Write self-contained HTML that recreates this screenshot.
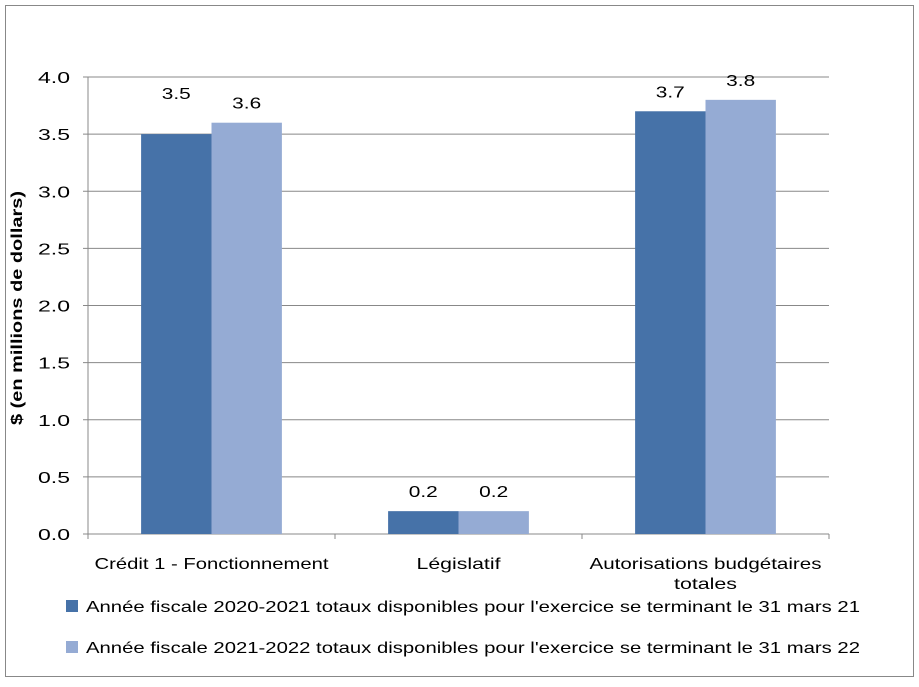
<!DOCTYPE html>
<html><head><meta charset="utf-8"><style>
body{margin:0;background:#fff;font-family:"Liberation Sans",sans-serif;}
svg text{font-family:"Liberation Sans",sans-serif;}
</style></head><body>
<svg id="chart" width="919" height="682" viewBox="0 0 919 682">
<rect x="5.5" y="5.5" width="908" height="671" fill="#fff" stroke="#888"/>
<g id="grid"></g><g id="bars"></g><g id="labels"></g>
<text transform="translate(22,308) rotate(-90)" text-anchor="middle" font-size="16" font-weight="bold" fill="#000" textLength="234" lengthAdjust="spacingAndGlyphs">$ (en millions de dollars)</text>
<g>
<rect x="66" y="600" width="12" height="12" fill="#4672A8"/>
<text x="86" y="612" font-size="16" fill="#000" textLength="774" lengthAdjust="spacingAndGlyphs">Année fiscale 2020-2021 totaux disponibles pour l'exercice se terminant le 31 mars 21</text>
<rect x="66" y="641" width="12" height="12" fill="#95ABD4"/>
<text x="86" y="653" font-size="16" fill="#000" textLength="774" lengthAdjust="spacingAndGlyphs">Année fiscale 2021-2022 totaux disponibles pour l'exercice se terminant le 31 mars 22</text>
</g>
</svg>
<script>
const categories=["Crédit 1 - Fonctionnement","Législatif","Autorisations budgétaires|totales"];
const series2020=[3.5,0.2,3.7];
const series2021=[3.6,0.2,3.8];
const yTicks=[0,0.5,1,1.5,2,2.5,3,3.5,4];
const NS="http://www.w3.org/2000/svg";
const x0=88,x1=829,y0=534,yTop=77,yMax=4;
function yScale(v){return y0-(v/yMax)*(y0-yTop);}
const gw=(x1-x0)/categories.length;
function xCenter(i){return x0+gw*(i+0.5);}
function mk(t,a,p){const e=document.createElementNS(NS,t);for(const k in a)e.setAttribute(k,a[k]);p.appendChild(e);return e;}
const grid=document.getElementById('grid'),bars=document.getElementById('bars'),labels=document.getElementById('labels');
function fit(t,w){t.setAttribute('textLength',w);t.setAttribute('lengthAdjust','spacingAndGlyphs');}
yTicks.forEach(v=>{
 const y=yScale(v);
 const l=mk('line',{x1:x0,x2:x1,y1:y,y2:y,stroke:'#888','stroke-width':1},grid);
 
 
 mk('line',{x1:x0-5,x2:x0,y1:y,y2:y,stroke:'#888'},grid);
 const t=mk('text',{x:x0-18,y:y+6,'text-anchor':'end','font-size':16},grid);
 t.textContent=v.toFixed(1);
 fit(t,32);
 
 
});
mk('line',{x1:x0,x2:x0,y1:yTop,y2:y0+5,stroke:'#888'},grid);
for(let i=0;i<=categories.length;i++)mk('line',{x1:x0+gw*i,x2:x0+gw*i,y1:y0,y2:y0+5,stroke:'#888'},grid);
const bw=gw*0.285;
const catWidths=[[234],[84],[232,63]];
categories.forEach((c,i)=>{
 const cx=xCenter(i);
 [[series2020,'#4672A8',-1],[series2021,'#95ABD4',0]].forEach(([s,col,off],j)=>{
  const v=s[i],x=cx+off*bw,y=yScale(v);
  const r=mk('rect',{x:x,y:y,width:bw,height:y0-y,fill:col},bars);
  
  
  const t=mk('text',{x:x+bw/2,y:y-(i===0&&j===0?35:14),'text-anchor':'middle','font-size':16},labels);
  t.textContent=v.toFixed(1);
  fit(t,29);
  
  
 });
 const lines=c.split('|');
 lines.forEach((ln,k)=>{
  const t=mk('text',{x:cx,y:569+k*20,'text-anchor':'middle','font-size':16},labels);
  t.textContent=ln;
  fit(t,catWidths[i][k]);
  
  
 });
});
</script>
</body></html>
